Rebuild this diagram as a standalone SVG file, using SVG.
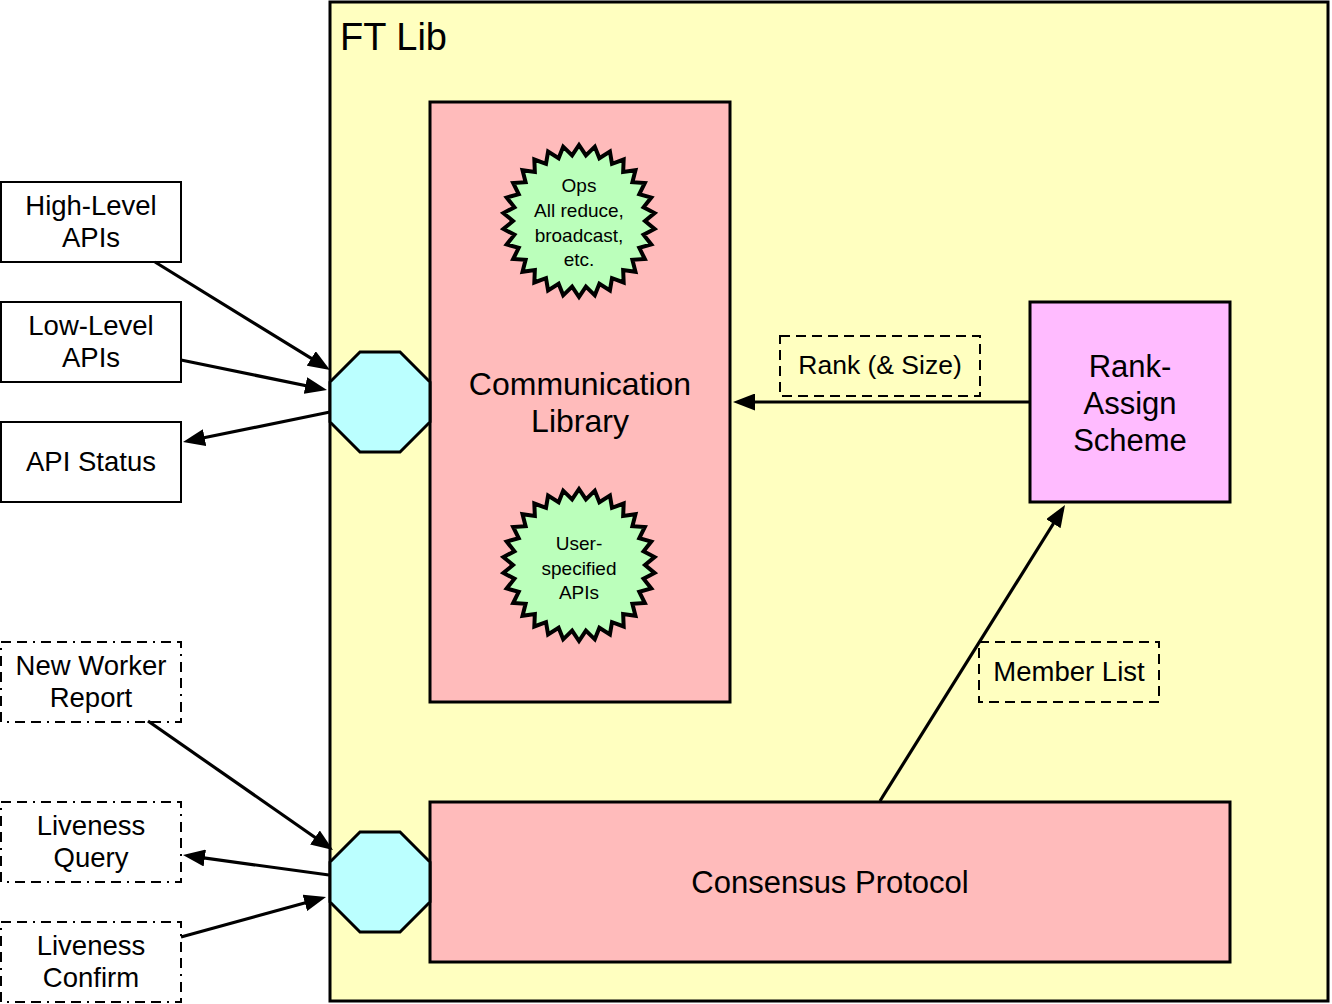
<svg xmlns="http://www.w3.org/2000/svg" xmlns:xlink="http://www.w3.org/1999/xlink" width="1332" height="1004" viewBox="0 0 1332 1004">
<style>
text{font-family:"Liberation Sans",Arial,Helvetica,sans-serif;fill:#000;text-anchor:middle}
.box{fill:#fff;stroke:#000;stroke-width:2}
.dd{fill:#fff;stroke:#000;stroke-width:2;stroke-dasharray:10 6 10 6 2 6}
.lbl{fill:none;stroke:#000;stroke-width:2;stroke-dasharray:10 6}
.pink{fill:#ffbbbb;stroke:#000;stroke-width:3}
.oct{fill:#bbffff;stroke:#000;stroke-width:3}
.star{fill:#bbffbb;stroke:#000;stroke-width:4;stroke-linejoin:miter}
.conn line{stroke:#000;stroke-width:3.2;marker-end:url(#ah)}
.t27{font-size:27.5px}
.t19{font-size:19px}
.t31{font-size:31px}
</style>
<defs>
<marker id="ah" viewBox="0 0 22 17" markerUnits="userSpaceOnUse" markerWidth="22" markerHeight="17" refX="12" refY="8.5" orient="auto">
<path d="M0,0 L22,8.5 L0,17 Z" fill="#000"/>
</marker>
<polygon id="starshape" points="0,-76 6.90,-65.64 15.80,-74.34 20.39,-62.77 30.91,-69.43 33,-57.16 44.67,-61.48 44.16,-49.04 56.48,-50.85 53.39,-38.79 65.82,-38 60.29,-26.84 72.28,-23.48 64.55,-13.72 75.58,-7.94 66,0 75.58,7.94 64.55,13.72 72.28,23.48 60.29,26.84 65.82,38 53.39,38.79 56.48,50.85 44.16,49.04 44.67,61.48 33,57.16 30.91,69.43 20.39,62.77 15.80,74.34 6.90,65.64 0,76 -6.90,65.64 -15.80,74.34 -20.39,62.77 -30.91,69.43 -33,57.16 -44.67,61.48 -44.16,49.04 -56.48,50.85 -53.39,38.79 -65.82,38 -60.29,26.84 -72.28,23.48 -64.55,13.72 -75.58,7.94 -66,0 -75.58,-7.94 -64.55,-13.72 -72.28,-23.48 -60.29,-26.84 -65.82,-38 -53.39,-38.79 -56.48,-50.85 -44.16,-49.04 -44.67,-61.48 -33,-57.16 -30.91,-69.43 -20.39,-62.77 -15.80,-74.34 -6.90,-65.64"/>
</defs>
<rect width="1332" height="1004" fill="#fff"/>

<g id="ftlib">
<rect x="330" y="2" width="998" height="999" fill="#ffffc0" stroke="#000" stroke-width="3"/>
<text x="340" y="50" style="font-size:38px;text-anchor:start">FT Lib</text>
</g>

<g id="commlib">
<rect class="pink" x="430" y="102" width="300" height="600"/>
<text x="580" y="395" style="font-size:32px">Communication</text>
<text x="580" y="432" style="font-size:32px">Library</text>
</g>

<g id="ops">
<use xlink:href="#starshape" href="#starshape" class="star" x="579" y="221"/>
<text class="t19" x="579" y="192">Ops</text>
<text class="t19" x="579" y="217">All reduce,</text>
<text class="t19" x="579" y="242">broadcast,</text>
<text class="t19" x="579" y="266">etc.</text>
</g>

<g id="userapis">
<use xlink:href="#starshape" href="#starshape" class="star" x="579" y="565"/>
<text class="t19" x="579" y="550">User-</text>
<text class="t19" x="579" y="575">specified</text>
<text class="t19" x="579" y="599">APIs</text>
</g>

<g id="rankassign">
<rect x="1030" y="302" width="200" height="200" fill="#ffbbff" stroke="#000" stroke-width="3"/>
<text class="t31" x="1130" y="377">Rank-</text>
<text class="t31" x="1130" y="414">Assign</text>
<text class="t31" x="1130" y="451">Scheme</text>
</g>

<g id="consensus">
<rect class="pink" x="430" y="802" width="800" height="160"/>
<text class="t31" x="830" y="893">Consensus Protocol</text>
</g>

<g id="port1">
<polygon class="oct" points="360,352 400,352 430,382 430,422 400,452 360,452 330,422 330,382"/>
</g>
<g id="port2">
<polygon class="oct" points="360,832 400,832 430,862 430,902 400,932 360,932 330,902 330,862"/>
</g>

<g id="highlevel">
<rect class="box" x="1" y="182" width="180" height="80"/>
<text class="t27" x="91" y="215">High-Level</text>
<text class="t27" x="91" y="247">APIs</text>
</g>
<g id="lowlevel">
<rect class="box" x="1" y="302" width="180" height="80"/>
<text class="t27" x="91" y="335">Low-Level</text>
<text class="t27" x="91" y="367">APIs</text>
</g>
<g id="apistatus">
<rect class="box" x="1" y="422" width="180" height="80"/>
<text class="t27" x="91" y="471">API Status</text>
</g>
<g id="newworker">
<rect class="dd" x="1" y="642" width="180" height="80"/>
<text class="t27" x="91" y="675">New Worker</text>
<text class="t27" x="91" y="707">Report</text>
</g>
<g id="livequery">
<rect class="dd" x="1" y="802" width="180" height="80"/>
<text class="t27" x="91" y="835">Liveness</text>
<text class="t27" x="91" y="867">Query</text>
</g>
<g id="liveconfirm">
<rect class="dd" x="1" y="922" width="180" height="80"/>
<text class="t27" x="91" y="955">Liveness</text>
<text class="t27" x="91" y="987">Confirm</text>
</g>

<g id="connectors" class="conn">
<line x1="155" y1="262" x2="321.5" y2="364.7"/>
<line x1="181" y1="360" x2="317.2" y2="388"/>
<line x1="330" y1="412" x2="192.8" y2="440"/>
<line x1="148" y1="721" x2="324.8" y2="844.3"/>
<line x1="329" y1="875" x2="192.9" y2="856.4"/>
<line x1="181" y1="937" x2="316.4" y2="899.7"/>
<line x1="1030" y1="402" x2="743" y2="402"/>
<line x1="880" y1="801" x2="1059.7" y2="513.5"/>
</g>

<g id="lbl-rank">
<rect class="lbl" x="780" y="336" width="200" height="60"/>
<text x="880" y="374" style="font-size:26.5px">Rank (&amp; Size)</text>
</g>
<g id="lbl-member">
<rect class="lbl" x="979" y="642" width="180" height="60"/>
<text x="1069" y="681" style="font-size:27.5px">Member List</text>
</g>
</svg>
